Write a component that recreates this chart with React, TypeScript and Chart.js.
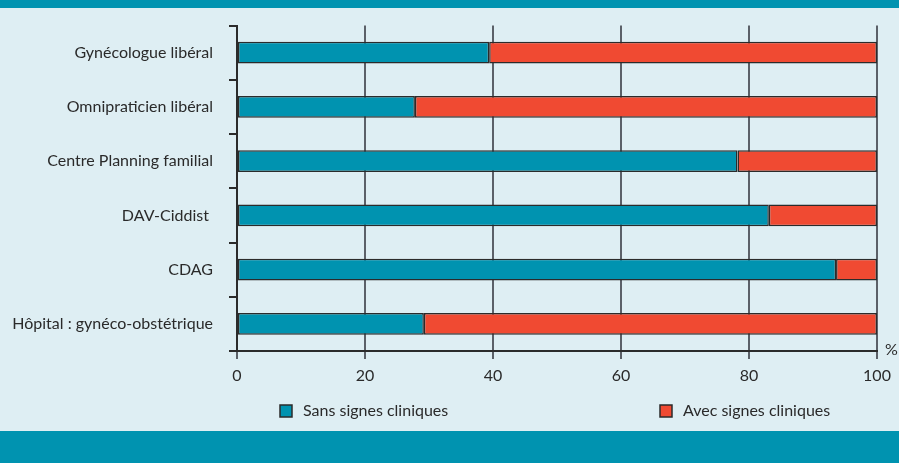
import { useEffect, useRef } from "react";
import { Chart, registerables } from "chart.js";

Chart.register(...registerables);

const categories = [
  "Gynécologue libéral",
  "Omnipraticien libéral",
  "Centre Planning familial",
  "DAV-Ciddist ",
  "CDAG",
  "Hôpital : gynéco-obstétrique",
];
const sansSignes = [39.4, 27.8, 78.2, 83.1, 93.6, 29.2];
const avecSignes = [60.6, 72.2, 21.8, 16.9, 6.4, 70.8];
const seriesLabels = ["Sans signes cliniques", "Avec signes cliniques"];
const xMin = 0;
const xMax = 100;
const xStep = 20;
const unitLabel = "%";

const TEAL = "#0093b0";
const RED = "#f04a32";
const BG = "#deeef3";
const DARK = "#2b2b2b";
const GRID = "#5b6068";
const TEXT = "#2a2a2a";
const FONT_FAMILY = "Lato, 'Noto Sans', sans-serif";
const FONT_SIZE = 16;

const framePlugin = {
  id: "frame",
  beforeDraw(chart: any) {
    const { ctx, width, height } = chart;
    ctx.save();
    ctx.fillStyle = BG;
    ctx.fillRect(0, 0, width, height);
    ctx.fillStyle = TEAL;
    ctx.fillRect(0, 0, width, 8);
    ctx.fillRect(0, 431, width, height - 431);
    ctx.restore();
  },
  afterDraw(chart: any) {
    const { ctx, chartArea } = chart;
    ctx.save();
    ctx.font = `${FONT_SIZE}px ${FONT_FAMILY}`;
    ctx.fillStyle = TEXT;
    ctx.textBaseline = "middle";
    ctx.textAlign = "left";
    ctx.fillText(unitLabel, chartArea.right + 8, chartArea.bottom - 1);

    const colors = [TEAL, RED];
    const offsets = [43, 423];
    seriesLabels.forEach((lab, i) => {
      const x = chartArea.left + offsets[i];
      const y = 405;
      ctx.fillStyle = colors[i];
      ctx.fillRect(x, y, 12, 12);
      ctx.strokeStyle = DARK;
      ctx.lineWidth = 1.5;
      ctx.strokeRect(x, y, 12, 12);
      ctx.fillStyle = TEXT;
      ctx.fillText(lab, x + 23, y + 6);
    });
    ctx.restore();
  },
};

export default function App() {
  const ref = useRef<HTMLCanvasElement | null>(null);

  useEffect(() => {
    document.body.style.margin = "0";
    const canvas = ref.current;
    if (!canvas) return;
    const chart = new Chart(canvas, {
      type: "bar",
      data: {
        labels: categories,
        datasets: [
          {
            label: seriesLabels[0],
            data: sansSignes,
            backgroundColor: TEAL,
            borderColor: DARK,
            borderWidth: 1.5,
            borderSkipped: false,
            barPercentage: 0.4,
            categoryPercentage: 1,
          },
          {
            label: seriesLabels[1],
            data: avecSignes,
            backgroundColor: RED,
            borderColor: DARK,
            borderWidth: 1.5,
            borderSkipped: false,
            barPercentage: 0.4,
            categoryPercentage: 1,
          },
        ],
      },
      options: {
        indexAxis: "y",
        responsive: false,
        animation: false,
        layout: { padding: { top: 21, right: 22, bottom: 72, left: 0 } },
        plugins: {
          legend: { display: false },
          tooltip: { enabled: false },
        },
        scales: {
          x: {
            stacked: true,
            min: xMin,
            max: xMax,
            ticks: {
              stepSize: xStep,
              color: TEXT,
              font: { family: FONT_FAMILY, size: FONT_SIZE },
              padding: 7,
              maxRotation: 0,
            },
            grid: {
              color: GRID,
              lineWidth: 2,
              tickLength: 8,
              drawOnChartArea: true,
            },
            border: { display: true, color: DARK, width: 2 },
            afterFit: (s: any) => {
              s.height = 40;
            },
          },
          y: {
            stacked: true,
            offset: true,
            ticks: {
              color: TEXT,
              font: { family: FONT_FAMILY, size: FONT_SIZE },
              padding: 16,
            },
            grid: {
              offset: true,
              drawOnChartArea: false,
              tickLength: 8,
              color: DARK,
              lineWidth: 2,
            },
            border: { display: true, color: DARK, width: 2 },
            afterFit: (s: any) => {
              s.width = 237;
            },
          },
        },
      } as any,
      plugins: [framePlugin],
    });
    return () => chart.destroy();
  }, []);

  return (
    <div style={{ position: "fixed", left: 0, top: 0, width: 899, height: 463 }}>
      <canvas ref={ref} width={899} height={463} style={{ display: "block" }} />
    </div>
  );
}
